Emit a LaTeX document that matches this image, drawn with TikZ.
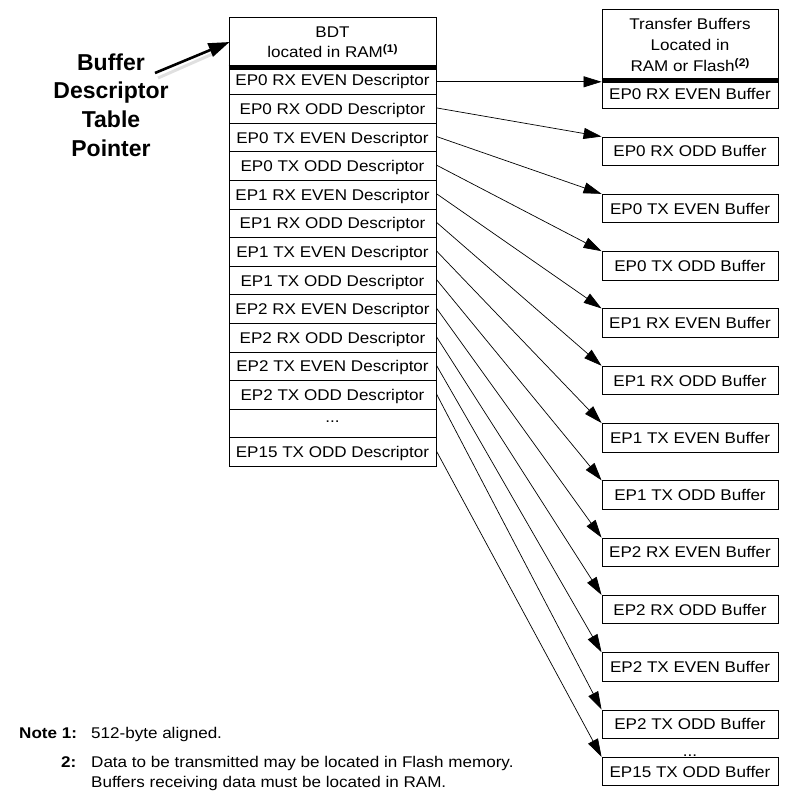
\documentclass[tikz,border=0pt]{standalone}
\usepackage{fontspec}
\setmainfont{Liberation Sans}[FakeStretch=1.1]
\newfontfamily\labelfont{Liberation Sans}
\usetikzlibrary{arrows.meta}
\newcommand{\supnote}[1]{\raisebox{5pt}{\fontsize{11}{11}\selectfont\bfseries #1}}
\begin{document}
\begin{tikzpicture}[x=1pt,y=-1pt,
  txt/.style={font=\fontsize{15.5}{20}\selectfont},
  desc/.style={draw, line width=0.9pt, minimum width=207pt, minimum height=28.6pt, inner sep=0pt, text depth=0pt, txt},
  buf/.style={draw, line width=0.9pt, minimum width=176pt, minimum height=28.5pt, inner sep=0pt, text depth=0pt, txt},
  hdr/.style={draw, line width=0.9pt, inner sep=0pt, align=center, txt},
  thick rule/.style={line width=5pt},
  link/.style={line width=0.7pt, -{Triangle[length=18pt,width=11pt]}},
  note/.style={inner sep=0pt, font=\fontsize{15.5}{20}\selectfont},
]
\useasboundingbox (0,0) rectangle (789,803);

% BDT table
\node[hdr, minimum width=207pt, minimum height=50pt] (bdt) at (332.5,42)
  {BDT\\located in RAM\supnote{(1)}};
\foreach \t [count=\i] in {EP0 RX EVEN Descriptor, EP0 RX ODD Descriptor,
  EP0 TX EVEN Descriptor, EP0 TX ODD Descriptor, EP1 RX EVEN Descriptor,
  EP1 RX ODD Descriptor, EP1 TX EVEN Descriptor, EP1 TX ODD Descriptor,
  EP2 RX EVEN Descriptor, EP2 RX ODD Descriptor, EP2 TX EVEN Descriptor,
  EP2 TX ODD Descriptor}
  \node[desc] (d\i) at (332.5,{66+28.6*(\i-0.5)}) {\t};
\node[desc] (d13) at (332.5,{66+28.6*12.5}) {\raisebox{4pt}{...}};
\node[desc] (d14) at (332.5,{66+28.6*13.5}) {EP15 TX ODD Descriptor};
\draw[thick rule] (bdt.south west) -- (bdt.south east);

% Transfer buffers
\node[hdr, minimum width=176pt, minimum height=71pt, font=\fontsize{15.5}{21}\selectfont] (tb) at (690,44.5)
  {Transfer Buffers\\Located in\\RAM or Flash\supnote{(2)}};
\node[buf] (b1) at (690,94.25) {EP0 RX EVEN Buffer};
\foreach \t [count=\i from 2] in {EP0 RX ODD Buffer, EP0 TX EVEN Buffer,
  EP0 TX ODD Buffer, EP1 RX EVEN Buffer, EP1 RX ODD Buffer, EP1 TX EVEN Buffer,
  EP1 TX ODD Buffer, EP2 RX EVEN Buffer, EP2 RX ODD Buffer, EP2 TX EVEN Buffer,
  EP2 TX ODD Buffer}
  \node[buf] (b\i) at (690,{137+57.3*(\i-2)+14.25}) {\t};
\node[txt, anchor=base, inner sep=0pt] (bdots) at (690,756) {...};
\node[buf] (b13) at (690,771.5) {EP15 TX ODD Buffer};
\draw[thick rule] (tb.south west) -- (tb.south east);

% connectors
\draw[link] ([yshift=-1.5pt]d1.east) -- ([yshift=-1.5pt]d1.east -| b1.west);
\foreach \i in {2,...,12}
  \draw[link] ([yshift=1pt]d\i.east) -- (b\i.north west);
\draw[link] ([yshift=1pt]d14.east) -- (b13.north west);

% pointer label
\node[font=\labelfont\fontsize{23}{28.7}\selectfont\bfseries, align=center, inner sep=0pt] (ptr) at (111,105)
  {Buffer\\Descriptor\\Table\\Pointer};
\coordinate (ptrtail) at (155,73);
\draw[line width=3pt, black!12] ([shift={(3,5)}]ptrtail) -- ([shift={(-16,12)}]bdt.west);
\draw[line width=2.6pt, -{Triangle[length=21pt,width=14pt]}] (ptrtail) -- ([xshift=1pt]bdt.west);

% notes
\node[note, anchor=base west, font=\fontsize{15.5}{20}\selectfont\bfseries] (n1) at (19,738) {Note 1:};
\node[note, anchor=base west] (n1t) at (91,738) {512-byte aligned.};
\node[note, anchor=base east, font=\fontsize{15.5}{20}\selectfont\bfseries] (n2) at (76.5,767) {2:};
\node[note, anchor=base west] (n2t) at (91,767) {Data to be transmitted may be located in Flash memory.};
\node[note, anchor=base west] (n2u) at (91,787) {Buffers receiving data must be located in RAM.};
\end{tikzpicture}
\end{document}
